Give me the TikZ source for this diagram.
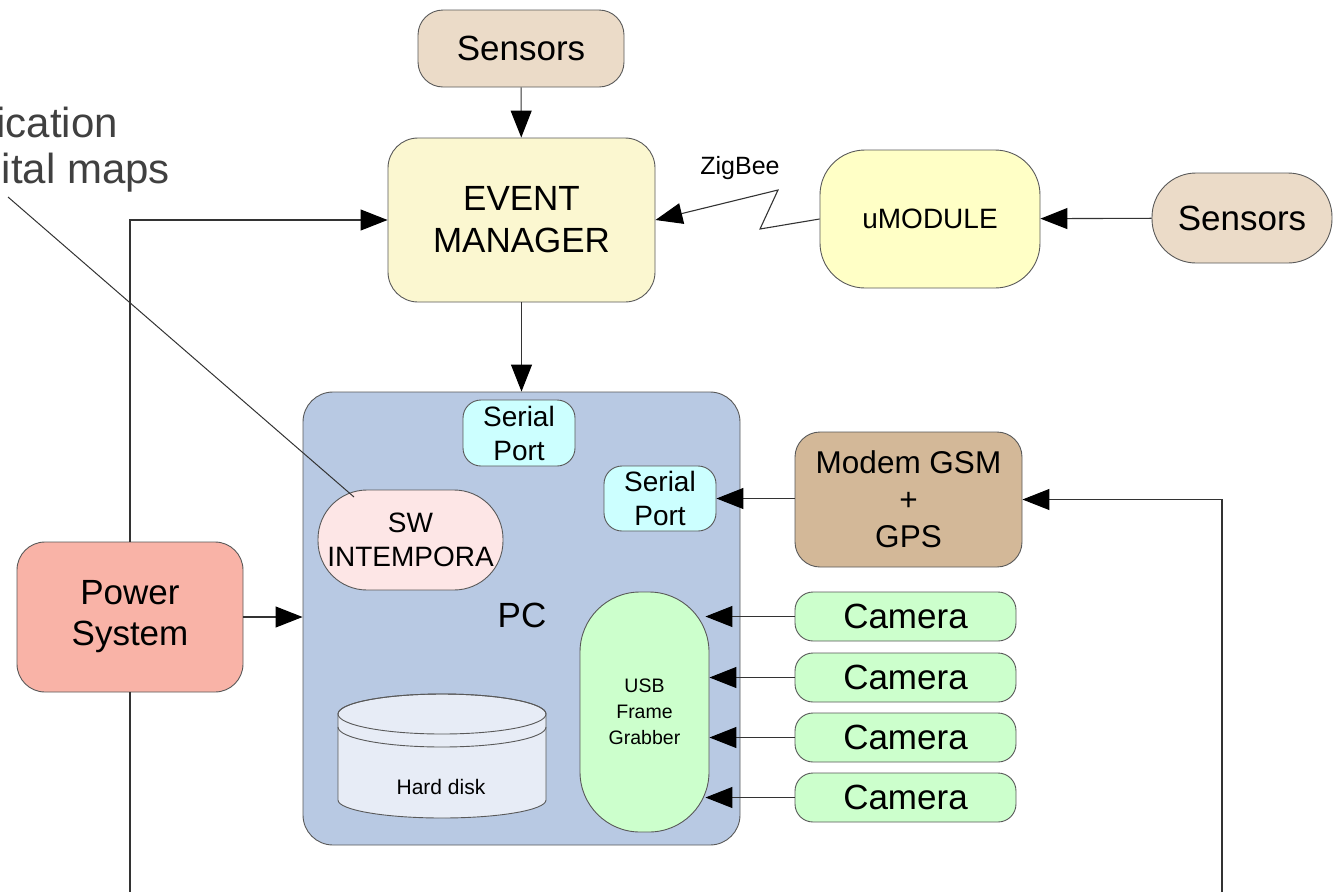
\documentclass[tikz,border=0pt]{standalone}
\usepackage{fontspec}
\setmainfont{Liberation Sans}
\usetikzlibrary{arrows.meta,calc}

\definecolor{sensfill}{HTML}{EBDBC8}
\definecolor{emfill}{HTML}{FBF7D0}
\definecolor{umfill}{HTML}{FFFFC6}
\definecolor{pcfill}{HTML}{B8C9E3}
\definecolor{portfill}{HTML}{CCFFFF}
\definecolor{swfill}{HTML}{FDE6E6}
\definecolor{greenfill}{HTML}{CCFFCC}
\definecolor{modemfill}{HTML}{D3B898}
\definecolor{powerfill}{HTML}{F9B3A7}
\definecolor{diskfill}{HTML}{E7ECF6}
\definecolor{notegray}{HTML}{404040}

\newcommand\fz[2]{\fontsize{#1}{#2}\selectfont}

\begin{document}
\begin{tikzpicture}[x=1pt,y=-1pt,
  box/.style={draw=black!65, line width=0.9pt, rounded corners=#1,
              inner sep=0pt, align=center, text=black},
  tip/.style={-{Triangle[length=27pt,width=21pt,color=black]}},
  wire/.style={draw=black!80, line width=1.1pt},
  arr/.style={wire, tip},
  cam/.style={box=18, fill=greenfill, minimum width=221, minimum height=49,
              font=\fz{35}{40}}]

\useasboundingbox (0,0) rectangle (1336,892);

% top row
\node[box=25, fill=sensfill, minimum width=206, minimum height=77,
      font=\fz{35}{40}] (s1) at (521,48.5) {Sensors};
\node[box=30, fill=emfill, minimum width=267, minimum height=164,
      font=\fz{35}{42}] (em) at (521.5,220) {EVENT\\MANAGER};
\node[box=45, fill=umfill, minimum width=220, minimum height=138,
      font=\fz{28}{32}] (um) at (930,219) {uMODULE};
\node[box=44, fill=sensfill, minimum width=180, minimum height=90,
      font=\fz{35}{40}] (s2) at (1242,218) {Sensors};

% PC and its parts
\node[box=30, fill=pcfill, minimum width=437, minimum height=453] (pc) at (521.5,618.5) {};
\node[font=\fz{35}{40}] (pclabel) at (522,615) {PC};
\node[box=18, fill=portfill, minimum width=112, minimum height=66,
      font=\fz{28}{34}] (sp1) at (519,433) {Serial\\Port};
\node[box=18, fill=portfill, minimum width=112, minimum height=65,
      font=\fz{28}{34}] (sp2) at (660,498.5) {Serial\\Port};
\node[box=49, fill=swfill, minimum width=185, minimum height=100,
      font=\fz{28}{34}] (sw) at (410.5,540) {SW\\INTEMPORA};
\node[box=60, fill=greenfill, minimum width=129, minimum height=240,
      font=\fz{19.5}{26}] (usb) at (644.5,712) {USB\\Frame\\Grabber};

% hard disk cylinder
\filldraw[fill=diskfill, draw=black!65, line width=0.9pt]
  (338,714) -- (338,800) arc[start angle=180, end angle=0, x radius=104, y radius=18]
  -- (546,714) arc[start angle=0, end angle=-180, x radius=104, y radius=20] -- cycle;
\draw[draw=black!65, line width=0.9pt] (442,714) ellipse[x radius=104, y radius=20];
\draw[draw=black!65, line width=0.9pt]
  (338,727) arc[start angle=180, end angle=0, x radius=104, y radius=20];
\node[font=\fz{21}{24}] (disk) at (441,787) {Hard disk};

% right side
\node[box=25, fill=modemfill, minimum width=227, minimum height=135,
      font=\fz{31.5}{37}] (modem) at (908.5,499.5) {Modem GSM\\+\\GPS};
\node[cam] (c1) at (905.5,616.5) {Camera};
\node[cam] (c2) at (905.5,677.5) {Camera};
\node[cam] (c3) at (905.5,737.5) {Camera};
\node[cam] (c4) at (905.5,797.5) {Camera};

% power
\node[box=28, fill=powerfill, minimum width=226, minimum height=150,
      font=\fz{35}{41}] (pw) at (130,617) {Power\\System};

% note text
\node[anchor=east, text=notegray, font=\fz{42}{51}, inner sep=0pt] (note1) at (118,122) {ication};
\node[anchor=east, text=notegray, font=\fz{42}{51}, inner sep=0pt] (note2) at (170,173) {ital maps};
\coordinate (notetail) at (8,197);
\coordinate (swtip) at (354,497);
\draw[draw=black!80, line width=1pt] (notetail) -- (swtip);

% connectors
\draw[arr] (s1) -- (em);
\draw[arr] (s2) -- (um);
\draw[arr] (em) -- (pc.north);
\draw[arr] (um.west) -- (760,229) -- (778,190) -- (em.east);
\node[font=\fz{25}{28}] (zig) at (740,168) {ZigBee};
\draw[arr] (pw.north) |- (em.west);
\draw[arr] (pw.east) -- (pw.east -| pc.west);
\coordinate (pwend) at (130,892);
\draw[wire] (pw.south) -- (pwend);
\draw[arr] (sp2.east -| modem.west) -- (sp2.east);
\coordinate (rightend) at (1222,892);
\draw[arr] (rightend) |- (modem.east);
\draw[arr] (c1.west) -- ([xshift=-4pt]c1.west -| usb.east);
\draw[arr] (c2.west) -- (c2.west -| usb.east);
\draw[arr] (c3.west) -- (c3.west -| usb.east);
\draw[arr] (c4.west) -- ([xshift=-4pt]c4.west -| usb.east);
\end{tikzpicture}
\end{document}
